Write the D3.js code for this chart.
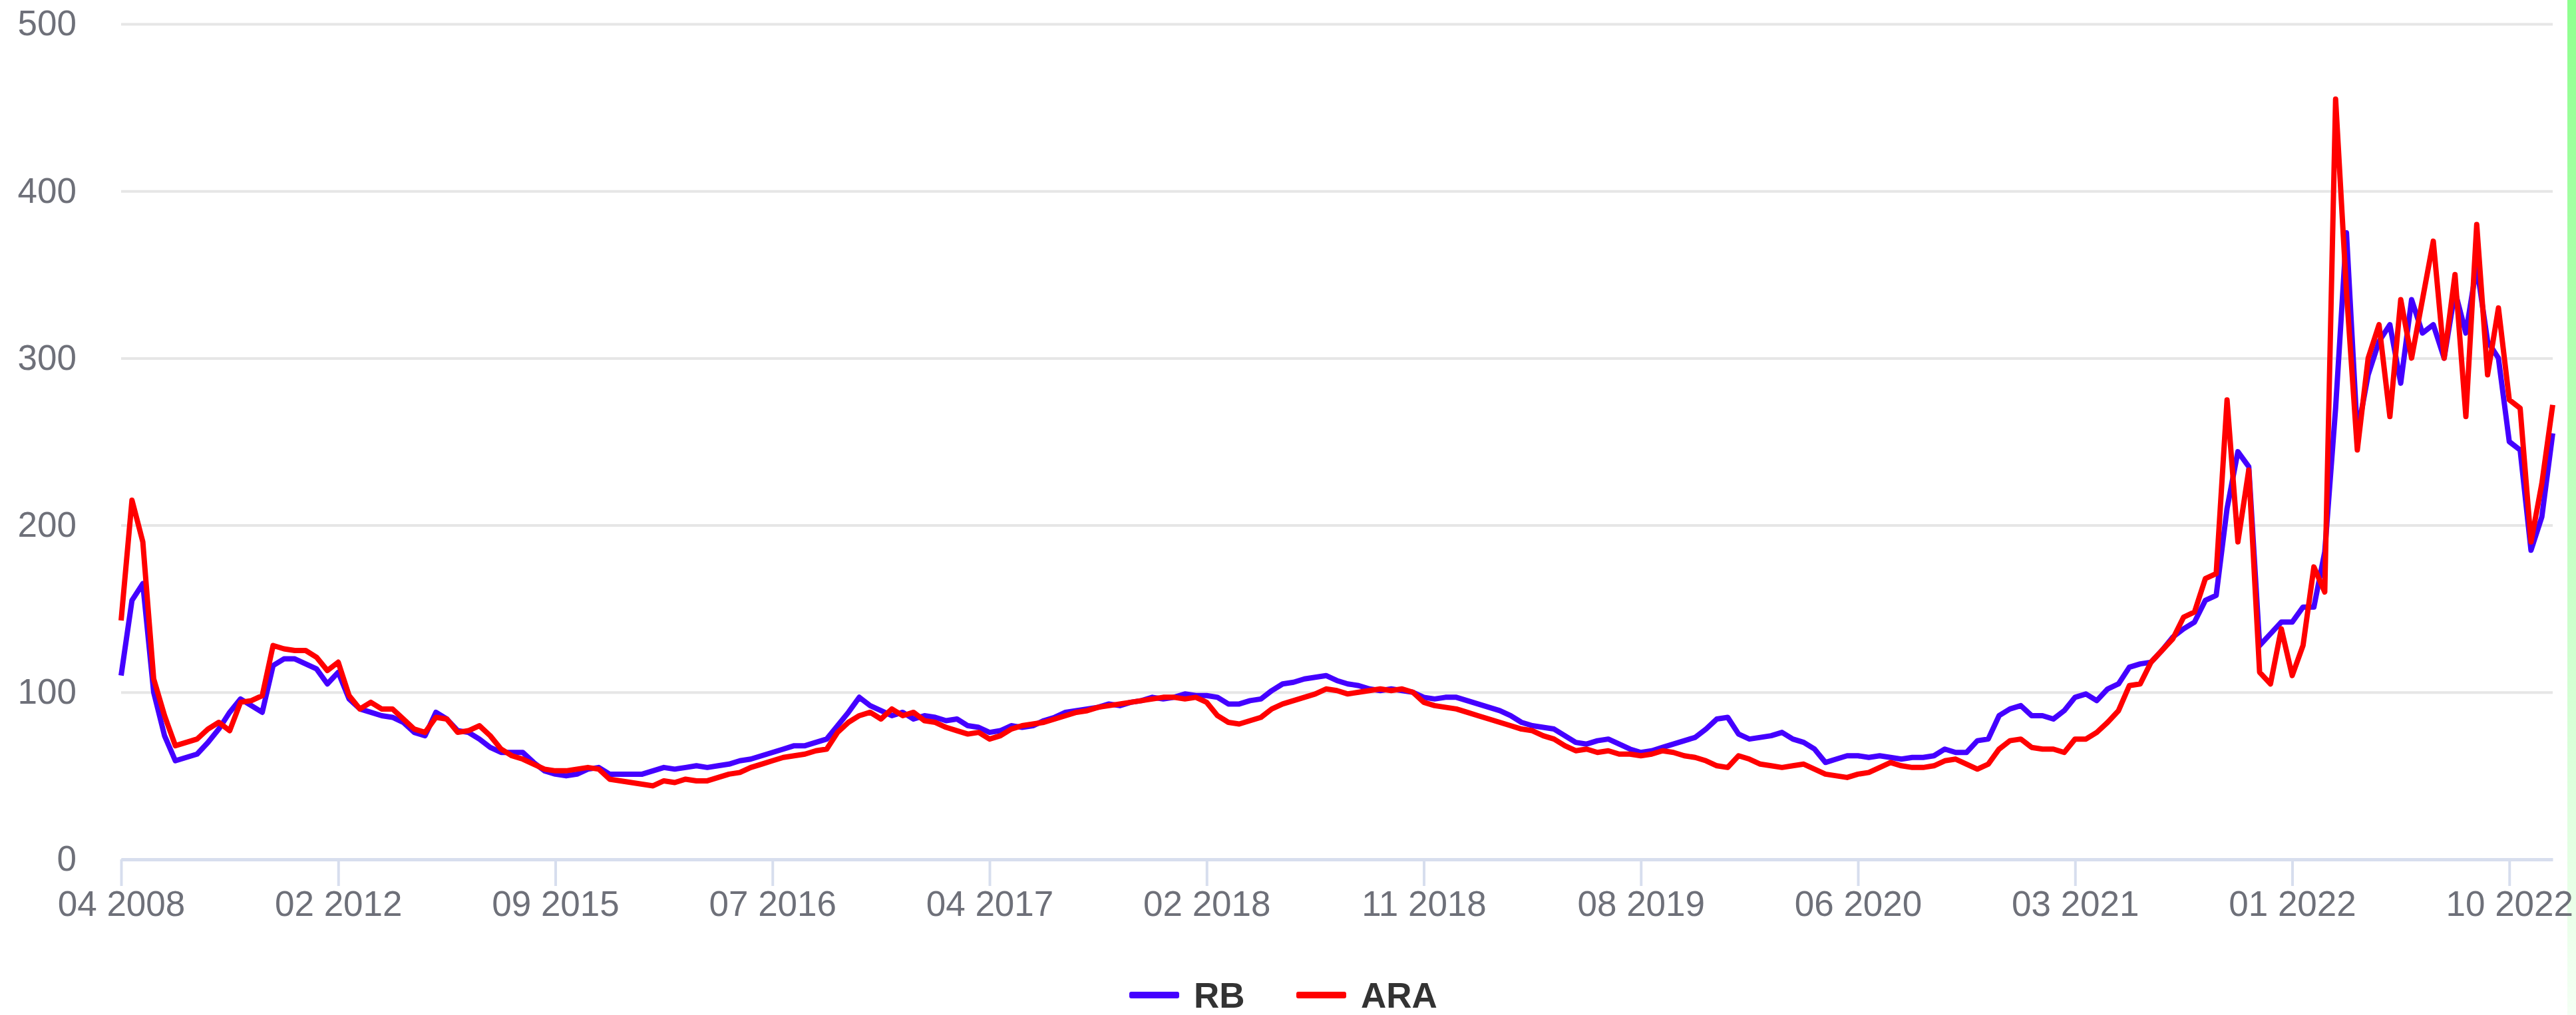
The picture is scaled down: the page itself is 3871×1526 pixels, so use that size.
<!DOCTYPE html>
<html>
  <head>
    <title>RB vs ARA</title>
    <script src="https://d3js.org/d3.v7.min.js"></script>
    <style>
      body { margin: 0; background: #fff; }
      text { font-family: "Liberation Sans", Arial, sans-serif; }
    </style>
  </head>
  <body>
    <script>
      // tick labels on the category axis, one every 20 points
      var tickLabels = ["04 2008","02 2012","09 2015","07 2016","04 2017","02 2018",
                        "11 2018","08 2019","06 2020","03 2021","01 2022","10 2022"];
      var tickStep = 20;

      var rb = [
        110,155,165,100,74,59,61,63,70,78, 88,96,92,88,116,120,120,117,114,105,
        112,96,90,88,86,85,82,76,74,88, 84,77,76,72,67,64,64,64,58,53,
        51,50,51,54,55,51,51,51,51,53, 55,54,55,56,55,56,57,59,60,62,
        64,66,68,68,70,72,80,88,97,92, 89,86,88,84,86,85,83,84,80,79,
        76,77,80,79,80,83,85,88,89,90, 91,93,92,94,95,97,96,97,99,98,
        98,97,93,93,95,96,101,105,106,108, 109,110,107,105,104,102,101,102,101,100,
        97,96,97,97,95,93,91,89,86,82, 80,79,78,74,70,69,71,72,69,66,
        64,65,67,69,71,73,78,84,85,75, 72,73,74,76,72,70,66,58,60,62,
        62,61,62,61,60,61,61,62,66,64, 64,71,72,86,90,92,86,86,84,89,
        97,99,95,102,105,115,117,118,125,133, 138,142,155,158,210,244,235,128,135,142,
        142,151,151,184,270,375,255,290,310,320, 285,335,315,320,300,340,315,355,310,300,
        250,245,185,205,255
      ];

      var ara = [
        143,215,190,108,86,68,70,72,78,82, 77,94,95,98,128,126,125,125,121,113,
        118,98,90,94,90,90,84,78,76,85, 84,76,77,80,74,66,62,60,57,54,
        53,53,54,55,54,48,47,46,45,44, 47,46,48,47,47,49,51,52,55,57,
        59,61,62,63,65,66,76,82,86,88, 84,90,86,88,83,82,79,77,75,76,
        72,74,78,80,81,82,84,86,88,89, 91,92,93,94,95,96,97,97,96,97,
        94,86,82,81,83,85,90,93,95,97, 99,102,101,99,100,101,102,101,102,100,
        94,92,91,90,88,86,84,82,80,78, 77,74,72,68,65,66,64,65,63,63,
        62,63,65,64,62,61,59,56,55,62, 60,57,56,55,56,57,54,51,50,49,
        51,52,55,58,56,55,55,56,59,60, 57,54,57,66,71,72,67,66,66,64,
        72,72,76,82,89,104,105,118,125,132, 145,148,168,171,275,190,233,112,105,138,
        110,128,175,160,455,340,245,300,320,265, 335,300,335,370,300,350,265,380,290,330,
        275,270,190,225,272
      ];

      var seriesNames = ["RB","ARA"];
      var seriesColors = ["#4400ff","#ff0000"];

      var width = 3871;
      var height = 1526;
      var plot = {left: 182, right: 3836, top: 36, bottom: 1292};

      var svg = d3.select("body")
        .append("svg")
        .attr("width",width)
        .attr("height",height);

      // faded green strip on the right edge
      var grad = svg.append("defs").append("linearGradient")
        .attr("id","edge")
        .attr("x1",0).attr("y1",0).attr("x2",0).attr("y2",1);
      grad.append("stop").attr("offset","0%").attr("stop-color","#8fff8f");
      grad.append("stop").attr("offset","100%").attr("stop-color","#f4fff4");
      svg.append("rect")
        .attr("x",3858).attr("y",0)
        .attr("width",13).attr("height",height)
        .attr("fill","url(#edge)");

      var xScale = d3.scaleLinear()
        .domain([0, rb.length-1])
        .range([plot.left, plot.right]);

      var yScale = d3.scaleLinear()
        .domain([0,500])
        .range([plot.bottom, plot.top]);

      var yAxis = svg.append("g")
        .attr("transform",`translate(${plot.left},0)`)
        .call(d3.axisLeft(yScale)
          .tickValues([0,100,200,300,400,500])
          .tickSize(-(plot.right-plot.left))
          .tickPadding(67));
      yAxis.select(".domain").remove();
      yAxis.selectAll("line")
        .attr("stroke","#e6e6e6")
        .attr("stroke-width",4);
      yAxis.selectAll("text")
        .attr("fill","#6e7079")
        .style("font-size","53px");

      var tickIdx = tickLabels.map(function(d,i) { return i*tickStep; });

      var xAxis = svg.append("g")
        .attr("transform",`translate(0,${plot.bottom})`)
        .call(d3.axisBottom(xScale)
          .tickValues(tickIdx)
          .tickFormat(function(d,i) { return tickLabels[i]; })
          .tickSize(40)
          .tickSizeOuter(0)
          .tickPadding(7));
      xAxis.select(".domain")
        .attr("stroke","#d7deee")
        .attr("stroke-width",5);
      xAxis.selectAll("line")
        .attr("stroke","#d7deee")
        .attr("stroke-width",4);
      xAxis.selectAll("text")
        .attr("fill","#6e7079")
        .style("font-size","53px");

      var line = d3.line()
        .x(function(d,i) { return xScale(i); })
        .y(function(d) { return yScale(d); });

      [rb, ara].forEach(function(s,k) {
        svg.append("path")
          .datum(s)
          .attr("fill","none")
          .attr("stroke",seriesColors[k])
          .attr("stroke-width",8)
          .attr("stroke-linejoin","round")
          .attr("d",line);
      });

      // legend
      var legendX = [1697, 1948];
      var legend = svg.selectAll(".legend")
        .data(seriesNames)
        .enter()
        .append("g")
          .attr("class","legend")
          .attr("transform",function(d,i) { return `translate(${legendX[i]},1496)`; });
      legend.append("rect")
        .attr("x",0).attr("y",-5)
        .attr("width",75).attr("height",10)
        .attr("rx",3)
        .attr("fill",function(d,i) { return seriesColors[i]; });
      legend.append("text")
        .attr("x",97)
        .attr("dy","0.36em")
        .attr("fill","#333")
        .style("font-size","53px")
        .style("font-weight","bold")
        .text(function(d) { return d; });
    </script>
  </body>
</html>
